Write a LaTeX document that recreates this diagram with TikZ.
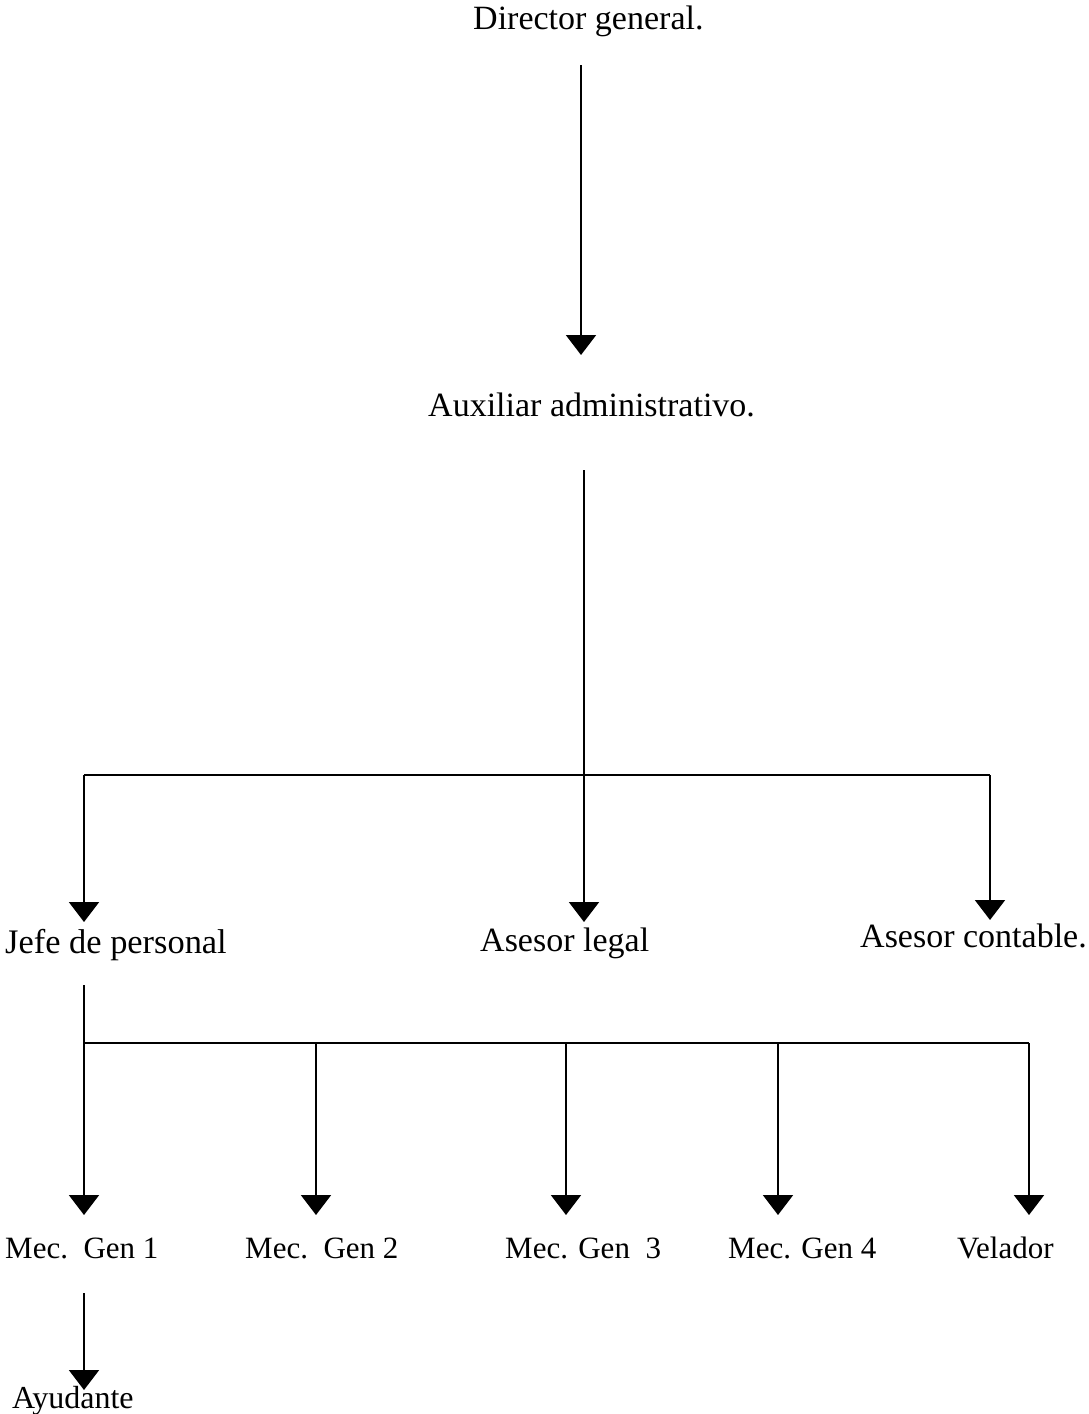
\documentclass[tikz,border=0pt]{standalone}
\usepackage{fontspec}
\setmainfont{Liberation Serif}
\usetikzlibrary{arrows.meta}
\begin{document}
\begin{tikzpicture}[x=1pt,y=-1pt,
  ln/.style={line width=2pt},
  arr/.style={line width=2pt,-{Triangle[width=30pt,length=20pt]}},
  big/.style={inner sep=0pt,anchor=base west,font=\fontsize{34}{40}\selectfont},
  small/.style={inner sep=0pt,anchor=base west,font=\fontsize{31}{37}\selectfont}]
\useasboundingbox (0,0) rectangle (1089,1414);
% labels
\node[big] (dir) at (473,29) {Director general.};
\node[big] (aux) at (428,416) {Auxiliar administrativo.};
\node[big,font=\fontsize{34.4}{40}\selectfont] (jefe) at (5,953) {Jefe de personal};
\node[big] (legal) at (480,951) {Asesor legal};
\node[big] (cont) at (860,947) {Asesor contable.};
\node[small] (m1) at (5,1258) {Mec.\ \ Gen 1};
\node[small] (m2) at (245,1258) {Mec.\ \ Gen 2};
\node[small] (m3) at (505,1258) {Mec. Gen\ \ 3};
\node[small] (m4) at (728,1258) {Mec. Gen 4};
\node[small] (vel) at (957,1258) {Velador};
\node[small,font=\fontsize{32}{38}\selectfont] (ayu) at (12,1408) {Ayudante};
% coordinates
\coordinate (dirOut) at (581,65);
\coordinate (auxIn) at (581,355);
\coordinate (auxOut) at (584,470);
\coordinate (b1) at (584,775);
\coordinate (b1L) at (84,775);
\coordinate (b1R) at (990,775);
\coordinate (jefeIn) at (84,922);
\coordinate (legalIn) at (584,922);
\coordinate (contIn) at (990,920);
\coordinate (jefeOut) at (84,985);
\coordinate (b2L) at (84,1043);
\coordinate (b2a) at (316,1043);
\coordinate (b2b) at (566,1043);
\coordinate (b2c) at (778,1043);
\coordinate (b2R) at (1029,1043);
\coordinate (m1In) at (84,1215);
\coordinate (m2In) at (316,1215);
\coordinate (m3In) at (566,1215);
\coordinate (m4In) at (778,1215);
\coordinate (velIn) at (1029,1215);
\coordinate (m1Out) at (84,1293);
\coordinate (ayuIn) at (84,1390);
% connectors
\draw[arr] (dirOut) -- (auxIn);
\draw[ln] (auxOut) -- (b1);
\draw[ln] (b1L) -- (b1R);
\draw[arr] (b1L) -- (jefeIn);
\draw[arr] (b1) -- (legalIn);
\draw[arr] (b1R) -- (contIn);
\draw[ln] (jefeOut) -- (b2L) -- (b2R);
\draw[arr] (b2L) -- (m1In);
\draw[arr] (b2a) -- (m2In);
\draw[arr] (b2b) -- (m3In);
\draw[arr] (b2c) -- (m4In);
\draw[arr] (b2R) -- (velIn);
\draw[arr] (m1Out) -- (ayuIn);
\end{tikzpicture}
\end{document}
